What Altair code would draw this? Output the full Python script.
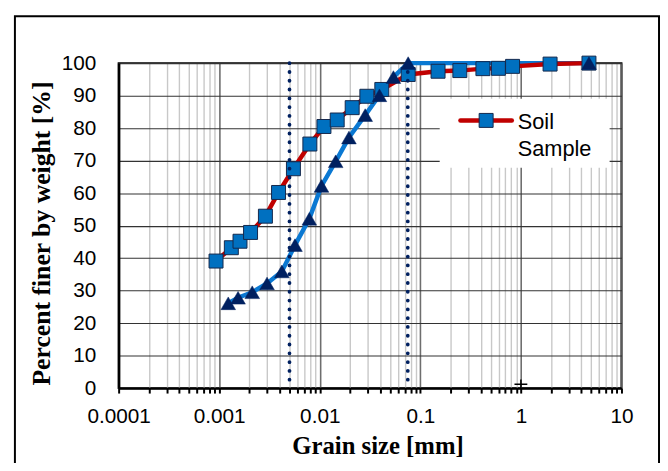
import altair as alt
import pandas as pd

# ---- data ----
soil_size = [0.00093, 0.00132, 0.00161, 0.00205, 0.00288, 0.00389, 0.00547, 0.00797,
             0.0110, 0.0149, 0.0210, 0.0294, 0.0414, 0.0757, 0.150, 0.247, 0.419,
             0.597, 0.826, 1.95, 4.75]
soil_pct = [39.1, 43.2, 45.2, 47.9, 52.9, 60.2, 67.5, 75.1,
            80.5, 82.5, 86.3, 89.8, 91.9, 96.5, 97.5, 97.7, 98.3,
            98.4, 99.0, 99.7, 100.0]

tri_size = [0.00123, 0.00154, 0.00213, 0.00299, 0.0042, 0.00567, 0.00787, 0.0104,
            0.0144, 0.0195, 0.0283, 0.0392, 0.054, 0.0757, 4.75]
tri_pct = [26.1, 27.8, 29.5, 32.2, 35.9, 44.0, 52.1, 62.2,
           69.8, 77.1, 84.0, 90.1, 95.7, 100.0, 100.0]

limit_sizes = [0.005, 0.075]
cross_size = [1.0]
cross_pct = [1.2]

x_ticks = [m * 10.0 ** e for e in range(-4, 1) for m in range(1, 10)] + [10.0]
y_ticks = list(range(0, 101, 10))

x_title = "Grain size [mm]"
y_title = "Percent finer by weight [%]"
legend_text = "Soil\nSample"

# ---- tables ----
df_soil = pd.DataFrame({"size": soil_size, "pct": soil_pct})
df_tri = pd.DataFrame({"size": tri_size, "pct": tri_pct})
df_lim = pd.DataFrame({"size": limit_sizes})
df_cross = pd.DataFrame({"size": cross_size, "pct": cross_pct})
one = pd.DataFrame({"k": [0]})

is_major = "abs(log(datum.value)/LN10 - round(log(datum.value)/LN10)) < 1e-6"

x_axis = alt.Axis(
    values=x_ticks,
    labelExpr=f"({is_major}) ? format(datum.value, '~g') : ''",
    grid=True,
    gridColor={"condition": {"test": is_major, "value": "#6E6E6E"}, "value": "#C8C8C8"},
    gridWidth={"condition": {"test": is_major, "value": 1.6}, "value": 1.4},
    ticks=True, tickSize=5, tickWidth=2, tickColor="black",
    domainColor="black", domainWidth=2.5,
    labelFont="Liberation Sans", labelFontSize=21, labelColor="black",
    labelPadding=13, labelOverlap=False, labelFlush=False,
    title=x_title, titleFont="Liberation Serif", titleFontWeight="bold",
    titleFontSize=25, titleColor="black",
    titleX=262, titleY=66, titleBaseline="alphabetic", titleAlign="center",
)
y_axis = alt.Axis(
    values=y_ticks,
    grid=True, gridColor="#333333", gridWidth=1.1,
    ticks=True, tickSize=0,
    domainColor="black", domainWidth=2.5,
    labelFont="Liberation Sans", labelFontSize=21, labelColor="black",
    labelPadding=23,
    title=y_title, titleFont="Liberation Serif", titleFontWeight="bold",
    titleFontSize=26, titleColor="black",
    titleX=-70, titleY=172, titleBaseline="alphabetic", titleAngle=270,
    titleAlign="center",
)

xs = alt.Scale(type="log", domain=[0.0001, 10], nice=False)
ys = alt.Scale(domain=[0, 100], nice=False)
X = alt.X("size:Q", scale=xs, axis=x_axis)
Y = alt.Y("pct:Q", scale=ys, axis=y_axis)

tri_line = alt.Chart(df_tri).mark_line(color="#0A78D2", strokeWidth=4.5).encode(x=X, y=Y)
soil_line = alt.Chart(df_soil).mark_line(color="#C00000", strokeWidth=4.5).encode(x=X, y=Y)
soil_pts = alt.Chart(df_soil).mark_point(
    shape="square", filled=True, fill="#0070C0", stroke="#14284B", strokeWidth=1,
    size=200, opacity=1).encode(x=X, y=Y)
tri_pts = alt.Chart(df_tri).mark_point(
    shape="triangle-up", filled=True, fill="#002060", stroke="#002060", strokeWidth=0.5,
    size=220, opacity=1).encode(x=X, y=Y)
limits = alt.Chart(df_lim).mark_rule(
    color="#002060", strokeWidth=3.8, strokeDash=[0.1, 8.8], strokeCap="round"
).encode(x=X)
cross = alt.Chart(df_cross).mark_point(
    shape="M-1,0H1M0,-0.75V0.75", filled=False, stroke="black", strokeWidth=1.5,
    size=169, opacity=1).encode(x=X, y=Y)

# legend drawn by hand
leg_box = alt.Chart(one).mark_rect(fill="white").encode(
    x=alt.value(325), x2=alt.value(497), y=alt.value(36), y2=alt.value(106))
leg_line = alt.Chart(one).mark_rule(color="#C00000", strokeWidth=4.5, strokeCap="round").encode(
    x=alt.value(346), x2=alt.value(398), y=alt.value(58))
leg_sq = alt.Chart(one).mark_point(
    shape="square", filled=True, fill="#0070C0", stroke="#14284B", strokeWidth=1,
    size=200, opacity=1).encode(x=alt.value(372), y=alt.value(58))
leg_txt = alt.Chart(one).mark_text(
    text=legend_text, lineBreak="\n", lineHeight=27.7, font="Liberation Sans",
    fontSize=22, align="left", baseline="alphabetic", color="black").encode(
    x=alt.value(404), y=alt.value(66.3))

# outer frame
frame = alt.Chart(one).mark_rect(fill="transparent", stroke="black", strokeWidth=2).encode(
    x=alt.value(-105), x2=alt.value(547), y=alt.value(-47.5), y2=alt.value(430))

chart = alt.layer(
    tri_line, soil_line, soil_pts, tri_pts, limits, cross,
    leg_box, leg_line, leg_sq, leg_txt, frame,
).properties(
    width=509, height=329,
    autosize=alt.AutoSizeParams(type="none"),
    padding={"left": 112, "top": 53, "right": 39, "bottom": 73},
    background="white",
).configure_view(stroke="black", strokeWidth=2)

chart.save("out.html", embed_options={"renderer": "svg", "actions": False})
